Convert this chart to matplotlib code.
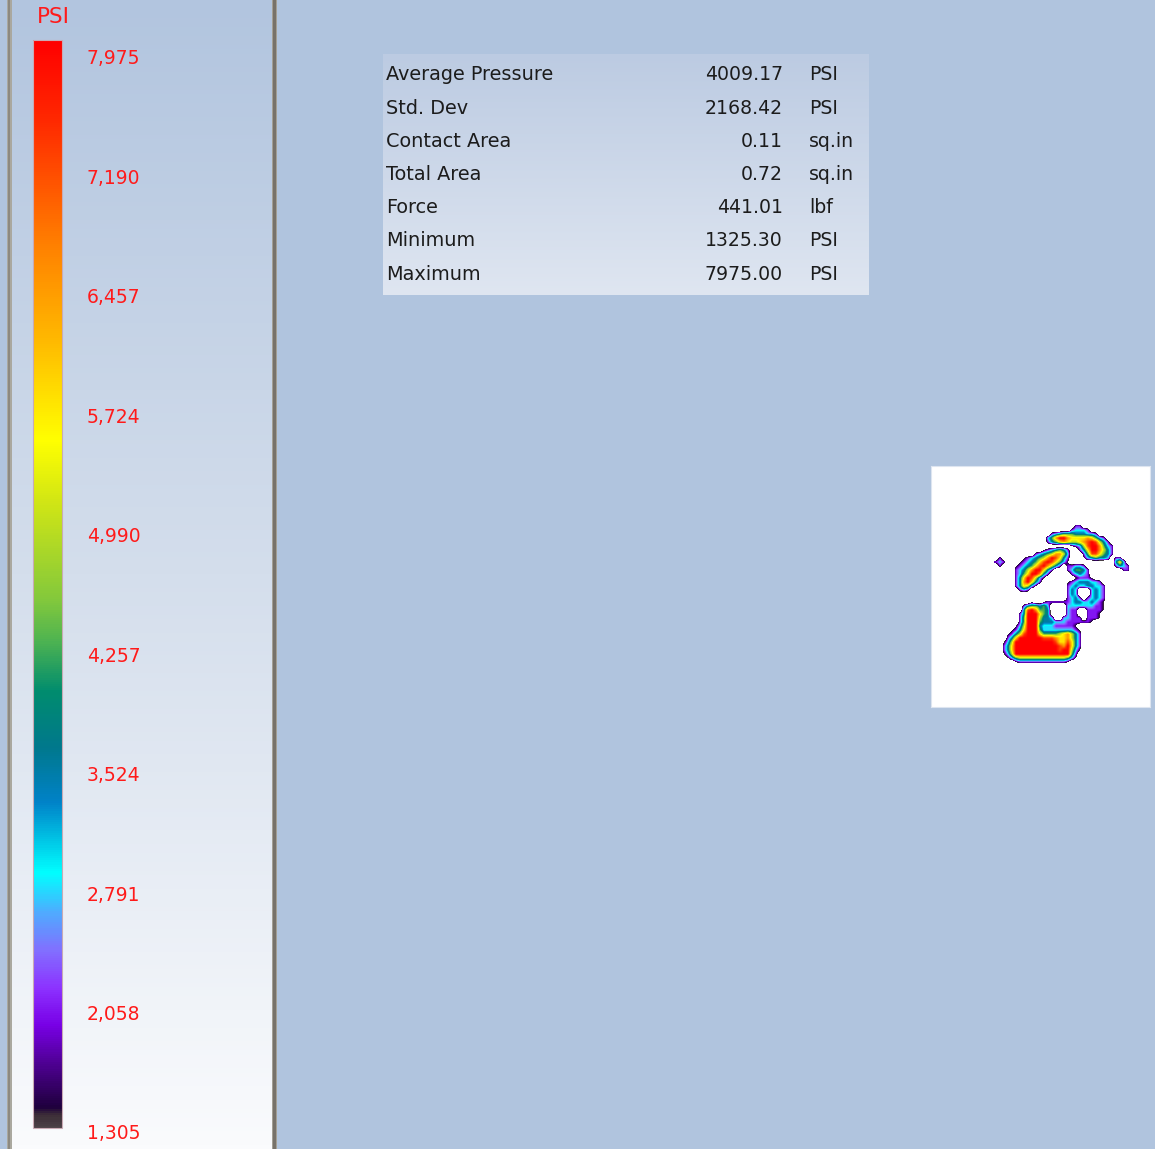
import numpy as np
import matplotlib
matplotlib.use("Agg")
import matplotlib.pyplot as plt
from matplotlib.colors import LinearSegmentedColormap, Normalize
from matplotlib.patches import Rectangle
from matplotlib.cm import ScalarMappable

plt.rcParams['font.family'] = ['DejaVu Sans']

# ---------------- data ----------------
unit_label = "PSI"
scale_min = 1305.0
scale_max = 7975.0
scale_labels = ["7,975", "7,190", "6,457", "5,724", "4,990",
                "4,257", "3,524", "2,791", "2,058", "1,305"]

stat_names = ["Average Pressure", "Std. Dev", "Contact Area", "Total Area",
              "Force", "Minimum", "Maximum"]
stat_values = ["4009.17", "2168.42", "0.11", "0.72", "441.01", "1325.30", "7975.00"]
stat_units = ["PSI", "PSI", "sq.in", "sq.in", "lbf", "PSI", "PSI"]

# pressure map: '.' = no contact,
# '0'..'9' = pressure level from scale_min to scale_max
pressure_rows = [
    "." * 36,
    "." * 20 + "11" + "." * 14,
    "." * 19 + "12221" + "." * 12,
    "." * 14 + "123444333221" + "." * 10,
    "." * 13 + "247997666676421" + "." * 8,
    "." * 13 + "1346765567898531" + "." * 7,
    "." * 19 + "01258997421" + "." * 6,
    "." * 12 + "0123431" + ".." + "136997531" + "." * 6,
    "." * 10 + "123457752" + "..." + "14886431" + "." * 6,
    ".1" + "." * 5 + "012345798631" + "..." + "0234332" + "." + "11" + "." * 4,
    "121" + "..." + "012346898642" + "0" + "." * 11 + "362" + "...",
    ".1" + "..." + "012346897531" + "." + "11221" + "." * 7 + "1321" + "..",
    "." * 5 + "1235799631" + "..." + "124431" + "." * 8 + "11" + "..",
    "." * 5 + "124699731" + "." * 5 + "12321" + "." * 12,
    "." * 5 + "13698520" + "." * 7 + "01110" + "." * 11,
    "." * 5 + "1379631" + "." * 6 + "012333221" + "." * 9,
    "." * 5 + "136520" + "." * 7 + "1232233221" + "." * 8,
    "." * 6 + "121" + "." * 9 + "132...2321" + "." * 8,
    "." * 18 + "132...2321" + "." * 8,
    "." * 9 + "0" + "." * 8 + "1231.12321" + "." * 8,
    "." * 9 + "0" + ".." + "011111" + "1233223210" + "." * 8,
    "." * 7 + "1344" + "342" + "...." + "2222222110" + "." * 8,
    "." * 7 + "3897" + "443" + "...." + "211..11110" + "." * 8,
    "." * 6 + "13999643" + "...." + "211..1110" + "." * 9,
    "." * 6 + "149995332" + ".." + "22111.1110" + "." * 9,
    "." * 6 + "1499943332221111110" + "." * 11,
    "." * 5 + "0259993222111110" + "." * 15,
    "." * 4 + "013699942222222210" + "." * 14,
    "." * 3 + "0135899964444567531" + "." * 14,
    "." * 3 + "1369999998887667531" + "." * 14,
    ".." + "025" + "9999999999" + "8668631" + "." * 14,
    ".." + "136" + "99999999999" + "879631" + "." * 14,
    ".." + "136" + "99999999999" + "899520" + "." * 14,
    ".." + "025" + "99999999999999" + "41" + "." * 15,
    "..." + "024" + "555555555555" + "420" + "." * 15,
    "." * 5 + "0" + "111111111111" + "0" + "." * 17,
    "." * 36,
]
for _r in pressure_rows:
    assert len(_r) == 36, (len(_r), _r)

# ---------------- figure ----------------
W, H = 1155, 1149
fig = plt.figure(figsize=(W / 100, H / 100), dpi=100)
fig.patch.set_facecolor('#b0c4de')


def box(x0, y0, x1, y1):
    return [x0 / W, 1 - y1 / H, (x1 - x0) / W, (y1 - y0) / H]


bg = fig.add_axes([0, 0, 1, 1])
bg.axis('off')

# left legend panel with vertical gradient
panel_cmap = LinearSegmentedColormap.from_list('panel', ['#b2c5df', '#d4deec', '#fafbfd'])
bg.imshow(np.linspace(0, 1, 256)[:, None], cmap=panel_cmap, extent=(10, 273, H, 0),
          aspect='auto', zorder=0)
# panel borders
bg.add_patch(Rectangle((6.8, 0), 4.8, H, facecolor='#aaa89f', edgecolor='none', zorder=2))
bg.add_patch(Rectangle((8.0, 0), 2.4, H, facecolor='#8c8980', edgecolor='none', zorder=2))
bg.add_patch(Rectangle((271.5, 0), 5.5, H, facecolor='#a29e94', edgecolor='none', zorder=2))
bg.add_patch(Rectangle((272.8, 0), 2.8, H, facecolor='#77726a', edgecolor='none', zorder=2))

# statistics box
stat_cmap = LinearSegmentedColormap.from_list('stat', ['#bccbe2', '#dfe6f1'])
bg.imshow(np.linspace(0, 1, 256)[:, None], cmap=stat_cmap, extent=(383, 869, 295, 54),
          aspect='auto', zorder=1)

bg.set_xlim(0, W)
bg.set_ylim(H, 0)

row_y0, row_dy = 75, 33.17
for i, (nm, val, un) in enumerate(zip(stat_names, stat_values, stat_units)):
    y = row_y0 + i * row_dy
    bg.text(386, y, nm, fontsize=13.9, color='#1c1c1c', ha='left', va='center', zorder=3)
    bg.text(783, y, val, fontsize=13.6, color='#1c1c1c', ha='right', va='center', zorder=3)
    bg.text(809, y, un, fontsize=13.6, color='#1c1c1c', ha='left', va='center', zorder=3)

# colour scale
stops = [
    (0.000, (75, 65, 70)), (0.011, (60, 45, 55)), (0.018, (30, 0, 60)),
    (0.060, (80, 0, 150)), (0.094, (120, 0, 230)), (0.128, (140, 50, 255)),
    (0.162, (130, 110, 255)), (0.197, (80, 170, 255)), (0.234, (0, 255, 255)),
    (0.299, (0, 130, 200)), (0.350, (0, 120, 140)), (0.401, (0, 140, 110)),
    (0.449, (80, 180, 80)), (0.485, (130, 200, 60)), (0.577, (210, 230, 20)),
    (0.632, (255, 255, 0)), (0.724, (255, 185, 0)), (0.812, (255, 128, 0)),
    (0.927, (255, 40, 0)), (1.000, (255, 0, 0)),
]
cmap = LinearSegmentedColormap.from_list(
    'psi', [(f, tuple(c / 255 for c in col)) for f, col in stops], N=512)
norm = Normalize(scale_min, scale_max)

cax = fig.add_axes(box(33, 40, 62, 1128))
cb = fig.colorbar(ScalarMappable(norm=norm, cmap=cmap), cax=cax)
cb.set_ticks([])
cax.minorticks_off()
cb.outline.set_edgecolor('#c9aab4')
cb.outline.set_linewidth(0.8)

bg.text(37, 17, unit_label, fontsize=15.5, color='#ff1a1a', ha='left', va='center', zorder=3)
lab_y0, lab_dy = 59, 119.44
for i, lab in enumerate(scale_labels):
    bg.text(87, lab_y0 + i * lab_dy, lab, fontsize=13.5, color='#ff1a1a',
            ha='left', va='center', zorder=3)

# pressure map
level_step = (scale_max - scale_min) / 9.0
P = np.array([[0.0 if ch == '.' else scale_min + int(ch) * level_step for ch in row]
              for row in pressure_rows])
map_cmap = cmap.with_extremes(under='white', bad='white')

mx = fig.add_axes(box(931, 466, 1150, 707))
mx.set_facecolor('white')
mx.imshow(P, cmap=map_cmap, norm=norm, extent=(994, 1138, 668, 520),
          interpolation='bilinear', interpolation_stage='data', aspect='auto')
mx.set_xlim(931, 1150)
mx.set_ylim(707, 466)
mx.set_xticks([])
mx.set_yticks([])
for s in mx.spines.values():
    s.set_edgecolor('#dde5f0')
    s.set_linewidth(0.8)

fig.savefig('out.png', dpi=100, facecolor=fig.get_facecolor())
